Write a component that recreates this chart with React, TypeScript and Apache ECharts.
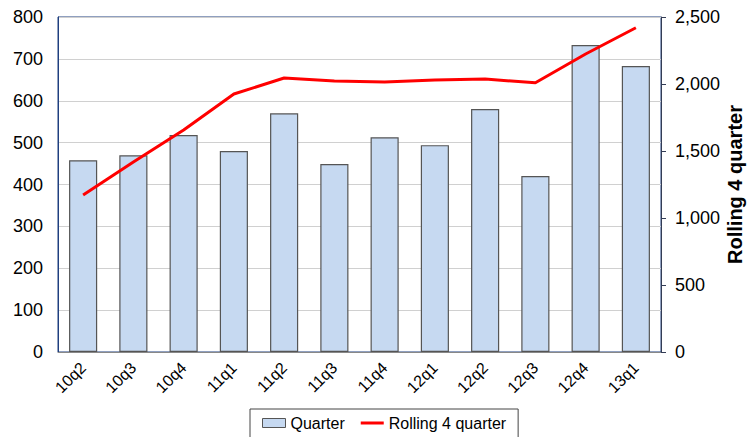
import React, { useEffect, useRef } from "react";
import * as echarts from "echarts";

const categories = ["10q2", "10q3", "10q4", "11q1", "11q2", "11q3", "11q4", "12q1", "12q2", "12q3", "12q4", "13q1"];
const quarterValues = [458, 470, 518, 480, 570, 449, 513, 494, 580, 420, 733, 683];
const rollingValues = [1172, 1418, 1657, 1925, 2045, 2022, 2015, 2030, 2037, 2009, 2224, 2420];

export default function App() {
  const ref = useRef<HTMLDivElement>(null);
  useEffect(() => {
    if (!ref.current) return;
    const chart = echarts.init(ref.current, null, { renderer: "svg" });
    const font = "Liberation Sans, Arial, sans-serif";
    chart.setOption({
      animation: false,
      textStyle: { fontFamily: font },
      grid: {
        left: 58, right: 87, top: 17, bottom: 85,
        containLabel: false, outerBoundsMode: "none",
        show: true, borderColor: "#1f3f7f", borderWidth: 1,
      },
      legend: {
        left: 250,
        top: 409,
        itemGap: 16,
        padding: [6, 12, 8, 12],
        borderColor: "#444",
        borderWidth: 1,
        itemWidth: 23,
        itemHeight: 9,
        textStyle: { fontSize: 16, color: "#000", fontFamily: font },
        data: [
          { name: "Quarter", icon: "rect", itemStyle: { color: "#c6d9f1", borderColor: "#555", borderWidth: 1 } },
          { name: "Rolling 4 quarter", icon: "path://M0,3.5 L23,3.5 L23,6.5 L0,6.5 Z" },
        ],
      },
      xAxis: {
        type: "category",
        data: categories,
        axisLine: { show: true, lineStyle: { color: "#888" } },
        axisTick: { show: false },
        axisLabel: { rotate: 45, fontSize: 16, color: "#000", margin: 13, fontFamily: font },
      },
      yAxis: [
        {
          type: "value",
          min: 0,
          max: 800,
          interval: 100,
          axisLine: { show: true, lineStyle: { color: "#1f3f7f" } },
          axisTick: { show: false },
          axisLabel: { fontSize: 18, color: "#000", margin: 15, fontFamily: font },
          splitLine: { show: true, lineStyle: { color: "#d0d0d0" } },
        },
        {
          type: "value",
          min: 0,
          max: 2500,
          interval: 500,
          position: "right",
          name: "Rolling 4 quarter",
          nameLocation: "middle",
          nameRotate: 90,
          nameGap: 64,
          nameMoveOverlap: false,
          nameTextStyle: { fontSize: 20, fontWeight: "bold", color: "#000", fontFamily: font },
          axisLine: { show: true, lineStyle: { color: "#333c55" } },
          axisTick: { show: true, inside: false, length: 5, lineStyle: { color: "#333c55" } },
          axisLabel: { fontSize: 18, color: "#000", margin: 14, fontFamily: font, formatter: (v: number) => v.toLocaleString("en-US") },
          splitLine: { show: false },
        },
      ],
      series: [
        {
          name: "Quarter",
          type: "bar",
          data: quarterValues,
          barWidth: "56%",
          itemStyle: { color: "#c6d9f1", borderColor: "#555", borderWidth: 1.2 },
        },
        {
          name: "Rolling 4 quarter",
          type: "line",
          yAxisIndex: 1,
          data: rollingValues,
          symbol: "none",
          itemStyle: { color: "#ff0000" },
          lineStyle: { color: "#ff0000", width: 3 },
        },
      ],
    });
    return () => chart.dispose();
  }, []);
  return <div ref={ref} style={{ width: 748, height: 437, position: "absolute", left: 0, top: 0 }} />;
}
